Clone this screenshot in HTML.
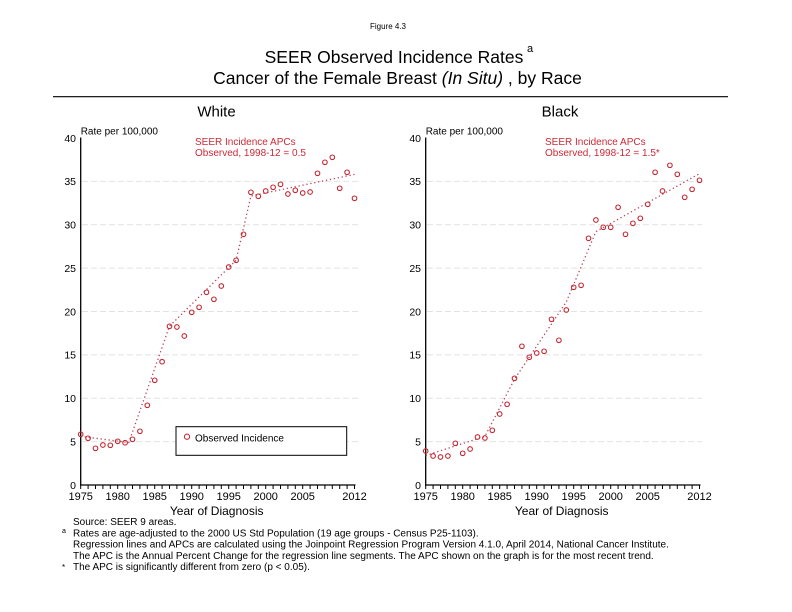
<!DOCTYPE html>
<html><head><meta charset="utf-8"><style>
html,body{margin:0;padding:0;background:#fff;}
svg{display:block;font-family:"Liberation Sans",Arial,sans-serif;}
</style></head><body>
<svg width="792" height="612" viewBox="0 0 792 612" xmlns="http://www.w3.org/2000/svg">
<rect width="792" height="612" fill="#fff"/>
<text x="388" y="29" font-size="8" text-anchor="middle">Figure 4.3</text>
<text x="394" y="63" font-size="17.5" text-anchor="middle">SEER Observed Incidence Rates</text>
<text x="527" y="52" font-size="11">a</text>
<text x="397.5" y="84" font-size="17.5" text-anchor="middle">Cancer of the Female Breast <tspan font-style="italic">(In Situ)</tspan> , by Race</text>
<line x1="53" y1="96.7" x2="728" y2="96.7" stroke="#000" stroke-width="1.2"/>
<text x="216.5" y="116.5" font-size="15" text-anchor="middle">White</text>
<text x="560" y="116.5" font-size="15" text-anchor="middle">Black</text>

<!-- LEFT PANEL -->
<g>
<g stroke="#e2e2e2" stroke-width="1" stroke-dasharray="6 3">
<line x1="82" y1="441.6" x2="358" y2="441.6"/>
<line x1="82" y1="398.25" x2="358" y2="398.25"/>
<line x1="82" y1="354.9" x2="358" y2="354.9"/>
<line x1="82" y1="311.5" x2="358" y2="311.5"/>
<line x1="82" y1="268.1" x2="358" y2="268.1"/>
<line x1="82" y1="224.75" x2="358" y2="224.75"/>
<line x1="82" y1="181.4" x2="358" y2="181.4"/>
</g>
<g font-size="10.5" text-anchor="end">
<text x="76" y="489">0</text>
<text x="76" y="445.5">5</text>
<text x="76" y="402">10</text>
<text x="76" y="358.7">15</text>
<text x="76" y="315.3">20</text>
<text x="76" y="272">25</text>
<text x="76" y="228.6">30</text>
<text x="76" y="185.2">35</text>
<text x="76" y="141.8">40</text>
</g>
<text x="80.7" y="134.3" font-size="10">Rate per 100,000</text>
<text x="195" y="145" font-size="10" fill="#cc2a36">SEER Incidence APCs</text>
<text x="195" y="156" font-size="10" fill="#cc2a36">Observed, 1998-12 = 0.5</text>
<line x1="80.7" y1="137.5" x2="80.7" y2="485.6" stroke="#000" stroke-width="1.3"/>
<line x1="80" y1="485" x2="355.5" y2="485" stroke="#000" stroke-width="1.3"/>
<path stroke="#000" stroke-width="1" d="M80.7 485v4M88.1 485v4M95.5 485v4M102.9 485v4M110.3 485v4M117.7 485v4M125.1 485v4M132.5 485v4M139.9 485v4M147.3 485v4M154.7 485v4M162.1 485v4M169.5 485v4M176.9 485v4M184.3 485v4M191.7 485v4M199.1 485v4M206.5 485v4M213.9 485v4M221.3 485v4M228.7 485v4M236.1 485v4M243.5 485v4M250.9 485v4M258.3 485v4M265.7 485v4M273.1 485v4M280.5 485v4M287.9 485v4M295.3 485v4M302.7 485v4M310.1 485v4M317.5 485v4M324.9 485v4M332.3 485v4M339.7 485v4M347.1 485v4M354.5 485v4"/>
<g font-size="11" text-anchor="middle">
<text x="80.7" y="500">1975</text>
<text x="117.7" y="500">1980</text>
<text x="154.7" y="500">1985</text>
<text x="191.7" y="500">1990</text>
<text x="228.7" y="500">1995</text>
<text x="265.7" y="500">2000</text>
<text x="302.7" y="500">2005</text>
<text x="354.5" y="500">2012</text>
</g>
<text x="216.7" y="515" font-size="12" text-anchor="middle">Year of Diagnosis</text>
<polyline fill="none" stroke="#b8465a" stroke-width="1.3" stroke-dasharray="1.3 2.7" points="80.7,436.4 128.8,442.5 169.5,326.2 236.1,260.3 250.9,196 354.5,174.4"/>
<g fill="none" stroke="#c22a35" stroke-width="1.1">
<circle cx="80.7" cy="434.3" r="2.3"/><circle cx="88.1" cy="438.3" r="2.3"/><circle cx="95.5" cy="448.3" r="2.3"/><circle cx="102.9" cy="445" r="2.3"/><circle cx="110.3" cy="445.3" r="2.3"/><circle cx="117.7" cy="441.3" r="2.3"/><circle cx="125.1" cy="442.7" r="2.3"/><circle cx="132.5" cy="439.3" r="2.3"/><circle cx="139.9" cy="431.3" r="2.3"/><circle cx="147.3" cy="405.3" r="2.3"/><circle cx="154.7" cy="380.3" r="2.3"/><circle cx="162.1" cy="361.7" r="2.3"/><circle cx="169.5" cy="326.3" r="2.3"/><circle cx="176.9" cy="327" r="2.3"/><circle cx="184.3" cy="336" r="2.3"/><circle cx="191.7" cy="312.3" r="2.3"/><circle cx="199.1" cy="307.3" r="2.3"/><circle cx="206.5" cy="292.3" r="2.3"/><circle cx="213.9" cy="299.3" r="2.3"/><circle cx="221.3" cy="286" r="2.3"/><circle cx="228.7" cy="267" r="2.3"/><circle cx="236.1" cy="260.3" r="2.3"/><circle cx="243.5" cy="234.3" r="2.3"/><circle cx="250.9" cy="192.3" r="2.3"/><circle cx="258.3" cy="196.3" r="2.3"/><circle cx="265.7" cy="191" r="2.3"/><circle cx="273.1" cy="187.3" r="2.3"/><circle cx="280.5" cy="184.3" r="2.3"/><circle cx="287.9" cy="194" r="2.3"/><circle cx="295.3" cy="190.3" r="2.3"/><circle cx="302.7" cy="193" r="2.3"/><circle cx="310.1" cy="192" r="2.3"/><circle cx="317.5" cy="173.3" r="2.3"/><circle cx="324.9" cy="162.3" r="2.3"/><circle cx="332.3" cy="157.3" r="2.3"/><circle cx="339.7" cy="188.3" r="2.3"/><circle cx="347.1" cy="172.3" r="2.3"/><circle cx="354.5" cy="198.3" r="2.3"/>
</g>
<rect x="176" y="426.7" width="170.7" height="28.6" fill="#fff" stroke="#000" stroke-width="1"/>
<circle cx="187" cy="436.7" r="2.6" fill="none" stroke="#c22a35" stroke-width="1.1"/>
<text x="195" y="441.5" font-size="10">Observed Incidence</text>
</g>

<!-- RIGHT PANEL -->
<g>
<g stroke="#e2e2e2" stroke-width="1" stroke-dasharray="6 3">
<line x1="427" y1="441.6" x2="702" y2="441.6"/>
<line x1="427" y1="398.25" x2="702" y2="398.25"/>
<line x1="427" y1="354.9" x2="702" y2="354.9"/>
<line x1="427" y1="311.5" x2="702" y2="311.5"/>
<line x1="427" y1="268.1" x2="702" y2="268.1"/>
<line x1="427" y1="224.75" x2="702" y2="224.75"/>
<line x1="427" y1="181.4" x2="702" y2="181.4"/>
</g>
<g font-size="10.5" text-anchor="end">
<text x="421" y="489">0</text>
<text x="421" y="445.5">5</text>
<text x="421" y="402">10</text>
<text x="421" y="358.7">15</text>
<text x="421" y="315.3">20</text>
<text x="421" y="272">25</text>
<text x="421" y="228.6">30</text>
<text x="421" y="185.2">35</text>
<text x="421" y="141.8">40</text>
</g>
<text x="425.7" y="134.3" font-size="10">Rate per 100,000</text>
<text x="545" y="145" font-size="10" fill="#cc2a36">SEER Incidence APCs</text>
<text x="545" y="156" font-size="10" fill="#cc2a36">Observed, 1998-12 = 1.5*</text>
<line x1="425.7" y1="137.5" x2="425.7" y2="485.6" stroke="#000" stroke-width="1.3"/>
<line x1="425" y1="485" x2="700.5" y2="485" stroke="#000" stroke-width="1.3"/>
<path stroke="#000" stroke-width="1" transform="translate(345,0)" d="M80.7 485v4M88.1 485v4M95.5 485v4M102.9 485v4M110.3 485v4M117.7 485v4M125.1 485v4M132.5 485v4M139.9 485v4M147.3 485v4M154.7 485v4M162.1 485v4M169.5 485v4M176.9 485v4M184.3 485v4M191.7 485v4M199.1 485v4M206.5 485v4M213.9 485v4M221.3 485v4M228.7 485v4M236.1 485v4M243.5 485v4M250.9 485v4M258.3 485v4M265.7 485v4M273.1 485v4M280.5 485v4M287.9 485v4M295.3 485v4M302.7 485v4M310.1 485v4M317.5 485v4M324.9 485v4M332.3 485v4M339.7 485v4M347.1 485v4M354.5 485v4"/>
<g font-size="11" text-anchor="middle">
<text x="425.7" y="500">1975</text>
<text x="462.7" y="500">1980</text>
<text x="499.7" y="500">1985</text>
<text x="536.7" y="500">1990</text>
<text x="573.7" y="500">1995</text>
<text x="610.7" y="500">2000</text>
<text x="647.7" y="500">2005</text>
<text x="699.5" y="500">2012</text>
</g>
<text x="561.7" y="515" font-size="12" text-anchor="middle">Year of Diagnosis</text>
<polyline fill="none" stroke="#b8465a" stroke-width="1.3" stroke-dasharray="1.3 2.7" points="425.7,455.5 484.9,436.4 514.5,379.2 566.3,301.9 595.9,231.7 699.5,173.6"/>
<g fill="none" stroke="#c22a35" stroke-width="1.1" transform="translate(345,0)">
<circle cx="80.7" cy="451" r="2.3"/><circle cx="88.1" cy="456" r="2.3"/><circle cx="95.5" cy="457" r="2.3"/><circle cx="102.9" cy="456" r="2.3"/><circle cx="110.3" cy="443.3" r="2.3"/><circle cx="117.7" cy="453.3" r="2.3"/><circle cx="125.1" cy="449" r="2.3"/><circle cx="132.5" cy="437" r="2.3"/><circle cx="139.9" cy="438" r="2.3"/><circle cx="147.3" cy="430.3" r="2.3"/><circle cx="154.7" cy="414" r="2.3"/><circle cx="162.1" cy="404.3" r="2.3"/><circle cx="169.5" cy="378.3" r="2.3"/><circle cx="176.9" cy="346.3" r="2.3"/><circle cx="184.3" cy="357.3" r="2.3"/><circle cx="191.7" cy="353" r="2.3"/><circle cx="199.1" cy="351.3" r="2.3"/><circle cx="206.5" cy="319.3" r="2.3"/><circle cx="213.9" cy="340.3" r="2.3"/><circle cx="221.3" cy="310" r="2.3"/><circle cx="228.7" cy="287.3" r="2.3"/><circle cx="236.1" cy="285.3" r="2.3"/><circle cx="243.5" cy="238.3" r="2.3"/><circle cx="250.9" cy="220" r="2.3"/><circle cx="258.3" cy="227.3" r="2.3"/><circle cx="265.7" cy="227.3" r="2.3"/><circle cx="273.1" cy="207.3" r="2.3"/><circle cx="280.5" cy="234.3" r="2.3"/><circle cx="287.9" cy="223.3" r="2.3"/><circle cx="295.3" cy="218.3" r="2.3"/><circle cx="302.7" cy="204.3" r="2.3"/><circle cx="310.1" cy="172.3" r="2.3"/><circle cx="317.5" cy="191" r="2.3"/><circle cx="324.9" cy="165.3" r="2.3"/><circle cx="332.3" cy="174.3" r="2.3"/><circle cx="339.7" cy="197.3" r="2.3"/><circle cx="347.1" cy="189.3" r="2.3"/><circle cx="354.5" cy="180.3" r="2.3"/>
</g>
</g>

<!-- FOOTNOTES -->
<g font-size="10">
<text x="73" y="525">Source: SEER 9 areas.</text>
<text x="62" y="533" font-size="7">a</text>
<text x="73" y="536.3">Rates are age-adjusted to the 2000 US Std Population (19 age groups - Census P25-1103).</text>
<text x="73" y="547.6">Regression lines and APCs are calculated using the Joinpoint Regression Program Version 4.1.0, April 2014, National Cancer Institute.</text>
<text x="73" y="558.9">The APC is the Annual Percent Change for the regression line segments. The APC shown on the graph is for the most recent trend.</text>
<text x="62" y="570" font-size="8">*</text>
<text x="73" y="570.2">The APC is significantly different from zero (p &lt; 0.05).</text>
</g>
</svg>
</body></html>
